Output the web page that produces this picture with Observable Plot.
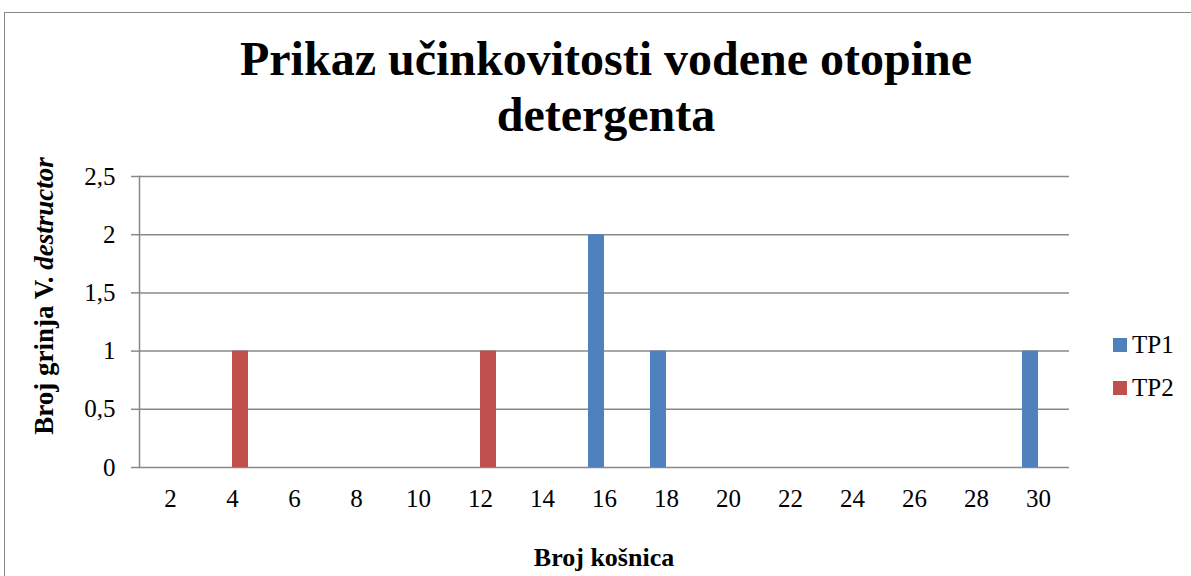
<!DOCTYPE html>
<html>
<head>
<meta charset="utf-8">
<script src="https://cdn.jsdelivr.net/npm/d3@7"></script>
<script src="https://cdn.jsdelivr.net/npm/@observablehq/plot@0.6"></script>
<style>
  html, body { margin: 0; padding: 0; background: #fff; }
  #wrap { position: relative; width: 1191px; height: 576px; overflow: hidden; font-family: "Liberation Serif", "Times New Roman", serif; color: #000; }
  #border { position: absolute; left: 4px; top: 12px; width: 1200px; height: 600px; border-top: 1.5px solid #888; border-left: 1.5px solid #888; }
  #title { position: absolute; left: 0; width: 1212px; top: 31px; text-align: center; font-weight: bold; font-size: 48px; line-height: 56px; }
  #ytitle { position: absolute; left: 44px; top: 296px; transform: translate(-50%, -50%) rotate(-90deg); white-space: nowrap; font-weight: bold; font-size: 27px; }
  #xtitle { position: absolute; left: 604px; top: 543px; transform: translateX(-50%); white-space: nowrap; font-weight: bold; font-size: 26px; }
  #legend { position: absolute; left: 1113px; top: 323px; font-size: 25px; }
  .li { display: flex; align-items: center; height: 43px; }
  .sw { width: 14px; height: 14px; margin-right: 5px; }
  #chart { position: absolute; left: 0; top: 0; }
</style>
</head>
<body>
<div id="wrap">
  <div id="border"></div>
  <div id="title">Prikaz učinkovitosti vodene otopine<br>detergenta</div>
  <div id="ytitle">Broj grinja V. <i>destructor</i></div>
  <div id="xtitle">Broj košnica</div>
  <div id="legend"></div>
  <div id="chart"></div>
</div>
<script>
const categories = [2, 4, 6, 8, 10, 12, 14, 16, 18, 20, 22, 24, 26, 28, 30];
const seriesNames = ["TP1", "TP2"];
const seriesColors = ["#4f81bd", "#c0504d"];
const tp1 = [0, 0, 0, 0, 0, 0, 0, 2, 1, 0, 0, 0, 0, 0, 1];
const tp2 = [0, 1, 0, 0, 0, 1, 0, 0, 0, 0, 0, 0, 0, 0, 0];
const yTicks = [0, 0.5, 1, 1.5, 2, 2.5];

const data = [];
categories.forEach((c, i) => {
  data.push({k: c, series: "TP1", value: tp1[i]});
  data.push({k: c, series: "TP2", value: tp2[i]});
});

const fmt = d => String(d).replace(".", ",");

const chart = Plot.plot({
  width: 1191,
  height: 576,
  marginTop: 176,
  marginLeft: 136,
  marginRight: 119,
  marginBottom: 109,
  style: {fontFamily: "Liberation Serif, Times New Roman, serif", fontSize: "25px", color: "#000", background: "transparent"},
  fx: {domain: categories, padding: 0},
  x: {domain: seriesNames, paddingInner: 0, paddingOuter: 0.835, axis: null},
  y: {domain: [0, 2.5], axis: null},
  color: {domain: seriesNames, range: seriesColors},
  marks: [
    Plot.gridY(yTicks, {stroke: "#888", strokeOpacity: 1, strokeWidth: 1.5}),
    Plot.barY(data, {fx: "k", x: "series", y: "value", fill: "series"}),
    Plot.axisY(yTicks, {tickSize: 8, tickPadding: 16, tickFormat: fmt, stroke: "#888", strokeWidth: 1.5, label: null, fontSize: 25}),
    Plot.frame({anchor: "left", facetAnchor: "left", stroke: "#888", strokeWidth: 1.5}),
    Plot.axisFx({anchor: "bottom", tickSize: 0, tickPadding: 22, label: null, fontSize: 25})
  ]
});
document.getElementById("chart").appendChild(chart);

const legend = document.getElementById("legend");
seriesNames.forEach((s, i) => {
  const row = document.createElement("div");
  row.className = "li";
  const sw = document.createElement("span");
  sw.className = "sw";
  sw.style.background = seriesColors[i];
  row.appendChild(sw);
  row.appendChild(document.createTextNode(s));
  legend.appendChild(row);
});
</script>
</body>
</html>
